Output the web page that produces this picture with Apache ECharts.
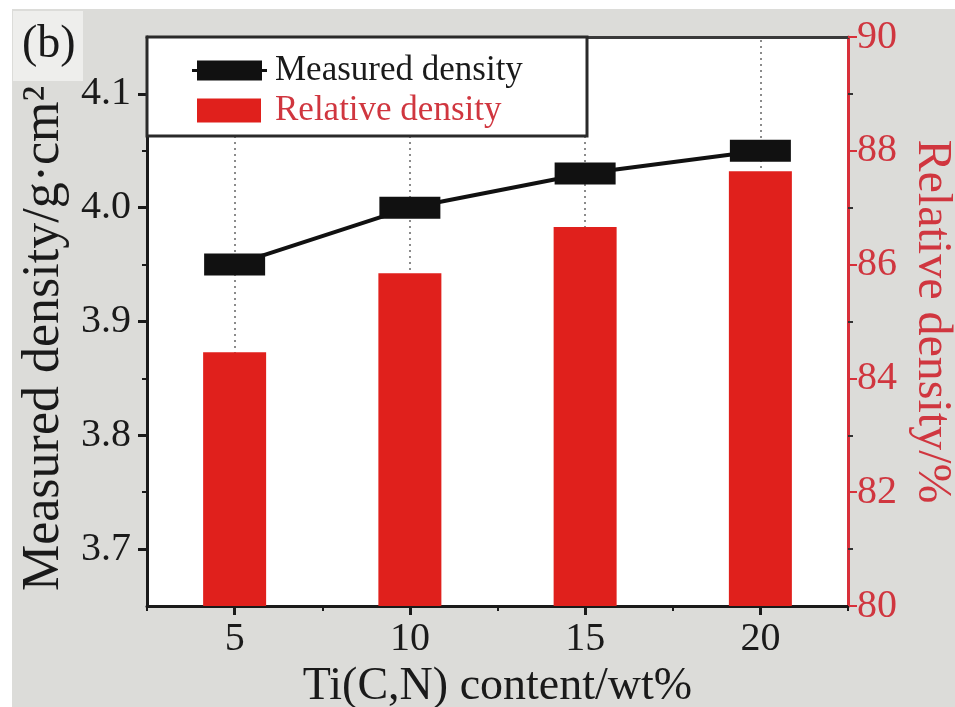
<!DOCTYPE html>
<html>
<head>
<meta charset="utf-8">
<script src="https://cdn.jsdelivr.net/npm/echarts@6/dist/echarts.min.js"></script>
<style>
  html, body { margin: 0; padding: 0; background: #ffffff; }
  #chart { width: 955px; height: 707px; }
</style>
</head>
<body>
<div id="chart"></div>
<script>
// Ti(C,N) content (wt%)
const contents = [5, 10, 15, 20];
// Measured density (g·cm⁻³), left axis
const measuredDensity = [3.95, 4.00, 4.03, 4.05];
// Relative density (%), right axis
const relativeDensity = [84.46, 85.85, 86.66, 87.64];

const xTicks = [5, 10, 15, 20];
const xMinorTicks = [2.5, 7.5, 12.5, 17.5, 22.5];
const leftTicks = [3.7, 3.8, 3.9, 4.0, 4.1];
const leftMinorTicks = [3.75, 3.85, 3.95, 4.05];
const rightTicks = [80, 82, 84, 86, 88, 90];
const rightMinorTicks = [81, 83, 85, 87, 89];

const FONT = '"Liberation Serif", "DejaVu Serif", serif';
const RED = '#e0201c';
const AXIS_RED = '#d8303a';
const LABEL_RED = '#d0363f';
const INK = '#1a1a1a';

const chart = echarts.init(document.getElementById('chart'), null, { renderer: 'canvas' });

const barData = contents.map((c, i) => [c, relativeDensity[i]]);
const lineData = contents.map((c, i) => [c, measuredDensity[i]]);

const lineIcon = 'path://M0,8.5 L5,8.5 L5,0 L70,0 L70,8.5 L75,8.5 L75,11.5 L70,11.5 L70,20 L5,20 L5,11.5 L0,11.5 Z';

const option = {
  backgroundColor: '#ffffff',
  animation: false,
  graphic: [
    { type: 'rect', z: -10, shape: { x: 12, y: 9, width: 943, height: 698 }, style: { fill: '#dcdcd9' } },
    { type: 'rect', z: -9, shape: { x: 13, y: 11, width: 70, height: 70 }, style: { fill: '#eeeeec' } },
    { type: 'rect', z: -8, shape: { x: 147, y: 37, width: 701, height: 569 }, style: { fill: '#ffffff' } },
    { type: 'text', z: 10, style: { x: 22, y: 22, text: '(b)', font: '46px ' + FONT, fill: INK } },
    // legend frame, opaque so the dotted guides stop beneath it
    { type: 'rect', z: 3, shape: { x: 147, y: 37, width: 440, height: 99 },
      style: { fill: '#ffffff', stroke: '#2a2a2a', lineWidth: 3 } }
  ],
  grid: { left: 147, right: 107, top: 37, bottom: 101, containLabel: false, outerBoundsMode: 'none' },
  legend: [
    {
      left: 192, top: 53, itemWidth: 75, itemHeight: 20, padding: 0, z: 6,
      data: [{ name: 'Measured density', icon: lineIcon }],
      textStyle: { fontFamily: FONT, fontSize: 35, color: INK, padding: [0, 0, 0, 3] }
    },
    {
      left: 197, top: 93, itemWidth: 64, itemHeight: 24, padding: 0, z: 6,
      data: [{ name: 'Relative density', icon: 'rect', textStyle: { color: LABEL_RED } }],
      textStyle: { fontFamily: FONT, fontSize: 35, color: LABEL_RED, padding: [0, 0, 0, 9] }
    }
  ],
  xAxis: [
    {
      type: 'value', min: 2.5, max: 22.5, position: 'bottom',
      name: 'Ti(C,N) content/wt%', nameLocation: 'middle', nameGap: 50,
      nameTextStyle: { fontFamily: FONT, fontSize: 46, color: INK },
      axisLine: { show: true, lineStyle: { color: INK, width: 3 } },
      axisTick: { show: true, inside: false, length: 9, customValues: xTicks, lineStyle: { color: INK, width: 3 } },
      axisLabel: { customValues: xTicks, fontFamily: FONT, fontSize: 40, color: INK, margin: 13 },
      splitLine: { show: false }
    },
    {
      type: 'value', min: 2.5, max: 22.5, position: 'bottom',
      axisLine: { show: false },
      axisTick: { show: true, length: 5, customValues: xMinorTicks, lineStyle: { color: INK, width: 2 } },
      axisLabel: { show: false },
      splitLine: { show: false }
    },
    {
      type: 'value', min: 2.5, max: 22.5, position: 'top',
      axisLine: { show: true, lineStyle: { color: '#3a3a3a', width: 3 } },
      axisTick: { show: false }, axisLabel: { show: false }, splitLine: { show: false }
    }
  ],
  yAxis: [
    {
      type: 'value', min: 3.65, max: 4.15, position: 'left',
      name: 'Measured density/g·cm²', nameLocation: 'middle', nameGap: 72,
      nameTextStyle: { fontFamily: FONT, fontSize: 52, color: INK, padding: [0, 34, 0, 0] },
      axisLine: { show: true, lineStyle: { color: INK, width: 3 } },
      axisTick: { show: true, length: 9, customValues: leftTicks, lineStyle: { color: INK, width: 3 } },
      axisLabel: { customValues: leftTicks, formatter: v => v.toFixed(1), fontFamily: FONT, fontSize: 40, color: INK, margin: 16 },
      splitLine: { show: false }
    },
    {
      type: 'value', min: 3.65, max: 4.15, position: 'left',
      axisLine: { show: false },
      axisTick: { show: true, length: 5, customValues: leftMinorTicks, lineStyle: { color: INK, width: 2 } },
      axisLabel: { show: false }, splitLine: { show: false }
    },
    {
      type: 'value', min: 80, max: 90, position: 'right',
      name: 'Relative density/%', nameLocation: 'middle', nameGap: 56, nameRotate: -90,
      nameTextStyle: { fontFamily: FONT, fontSize: 48, color: LABEL_RED },
      axisLine: { show: true, lineStyle: { color: AXIS_RED, width: 3 } },
      axisTick: { show: true, length: 9, customValues: rightTicks, lineStyle: { color: AXIS_RED, width: 2 } },
      axisLabel: { customValues: rightTicks, fontFamily: FONT, fontSize: 40, color: LABEL_RED, margin: 9 },
      splitLine: { show: false }
    },
    {
      type: 'value', min: 80, max: 90, position: 'right',
      axisLine: { show: false },
      axisTick: { show: true, length: 5, customValues: rightMinorTicks, lineStyle: { color: '#333', width: 2 } },
      axisLabel: { show: false }, splitLine: { show: false }
    }
  ],
  series: [
    {
      name: 'Relative density', type: 'bar', xAxisIndex: 0, yAxisIndex: 2,
      data: barData, barWidth: 63,
      itemStyle: { color: RED },
      markLine: {
        silent: true, symbol: 'none', label: { show: false }, z: 0,
        lineStyle: { type: [2, 4], color: '#666', width: 1.5 },
        data: contents.map(c => ({ xAxis: c }))
      },
      z: 2
    },
    {
      name: 'Measured density', type: 'line', xAxisIndex: 0, yAxisIndex: 0,
      data: lineData,
      symbol: 'rect', symbolSize: [61, 22],
      lineStyle: { color: '#111', width: 4 },
      itemStyle: { color: '#111' },
      z: 5
    }
  ]
};

chart.setOption(option);
</script>
</body>
</html>
